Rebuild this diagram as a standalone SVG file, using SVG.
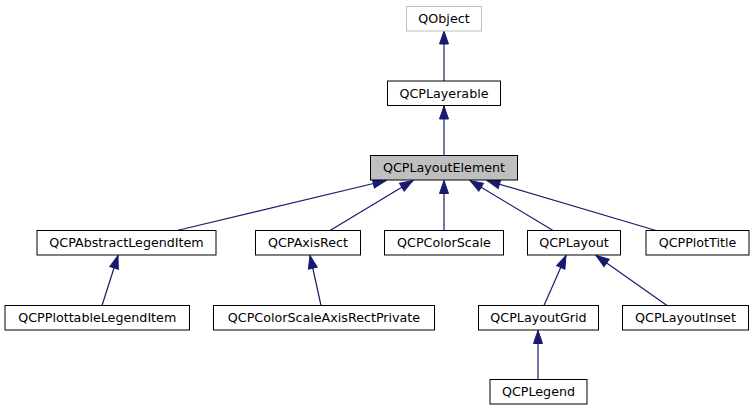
<svg xmlns="http://www.w3.org/2000/svg" width="754" height="411" viewBox="0 0 754 411">
<style>
.n rect{fill:#fff;stroke:#000;stroke-width:1}
.n text{font-family:"DejaVu Sans",sans-serif;font-size:12.7px;fill:#000;text-anchor:middle}
#QObject rect{stroke:#bfbfbf}
#QCPLayoutElement rect{fill:#bfbfbf}
.e path{fill:none;stroke:#191970;stroke-width:1.2;marker-end:url(#ah)}
</style>
<defs>
<marker id="ah" markerUnits="userSpaceOnUse" markerWidth="16" markerHeight="12" refX="14" refY="6" orient="auto">
<polygon points="1,1.5 14,6 1,10.5" fill="#191970" stroke="#191970"/>
</marker>
</defs>
<rect width="754" height="411" fill="#fff"/>
<g class="e" id="edges">
<path d="M444,81 L444,31"/>
<path d="M444,155.5 L444,106"/>
<path d="M177,230.5 L386,180.5"/>
<path d="M330,230.5 L413,180.5"/>
<path d="M444,230.5 L444,180.5"/>
<path d="M553,230.5 L470,180.5"/>
<path d="M656,230.5 L487,180.5"/>
<path d="M102,305.5 L118,255.5"/>
<path d="M321,305.5 L310,255.5"/>
<path d="M544,305.5 L566,255.5"/>
<path d="M667,305.5 L596,255.5"/>
<path d="M538,379.5 L538,330.5"/>
</g>
<g class="n" id="QObject"><rect x="406.5" y="6.5" width="75" height="24.5"/><text x="444" y="23">QObject</text></g>
<g class="n" id="QCPLayerable"><rect x="387.5" y="81" width="113" height="24.5"/><text x="444" y="97.5">QCPLayerable</text></g>
<g class="n" id="QCPLayoutElement"><rect x="370.5" y="155.5" width="147" height="24.5"/><text x="444" y="172">QCPLayoutElement</text></g>
<g class="n" id="QCPAbstractLegendItem"><rect x="37" y="230.5" width="179" height="24.5"/><text x="126.5" y="247">QCPAbstractLegendItem</text></g>
<g class="n" id="QCPAxisRect"><rect x="255.5" y="230.5" width="105" height="24.5"/><text x="308" y="247">QCPAxisRect</text></g>
<g class="n" id="QCPColorScale"><rect x="384.5" y="230.5" width="119" height="24.5"/><text x="444" y="247">QCPColorScale</text></g>
<g class="n" id="QCPLayout"><rect x="527.5" y="230.5" width="93" height="24.5"/><text x="574" y="247">QCPLayout</text></g>
<g class="n" id="QCPPlotTitle"><rect x="646" y="230.5" width="103" height="24.5"/><text x="697.5" y="247">QCPPlotTitle</text></g>
<g class="n" id="QCPPlottableLegendItem"><rect x="5" y="305.5" width="184.5" height="24.5"/><text x="97.25" y="322">QCPPlottableLegendItem</text></g>
<g class="n" id="QCPColorScaleAxisRectPrivate"><rect x="213.5" y="305.5" width="221" height="24.5"/><text x="324" y="322">QCPColorScaleAxisRectPrivate</text></g>
<g class="n" id="QCPLayoutGrid"><rect x="478.5" y="305.5" width="120" height="24.5"/><text x="538.5" y="322">QCPLayoutGrid</text></g>
<g class="n" id="QCPLayoutInset"><rect x="622.5" y="305.5" width="126" height="24.5"/><text x="685.5" y="322">QCPLayoutInset</text></g>
<g class="n" id="QCPLegend"><rect x="490" y="379.5" width="97" height="24.5"/><text x="538.5" y="396">QCPLegend</text></g>
</svg>
